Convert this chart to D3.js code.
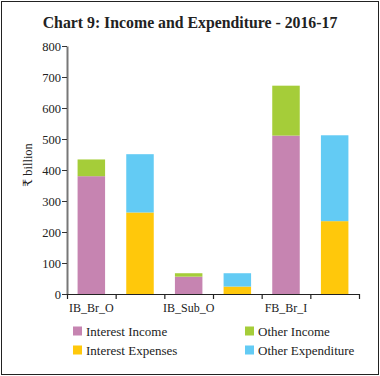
<!DOCTYPE html>
<html>
<head>
<meta charset="utf-8">
<script src="https://cdn.jsdelivr.net/npm/d3@7"></script>
<style>
  body { margin: 0; background: #fff; }
  svg text { font-family: "Liberation Serif", "DejaVu Serif", serif; fill: #222; }
</style>
</head>
<body>
<div id="chart"></div>
<script>
// ---- data ----
const slots = ["IB_Br_O", "IB_Br_O_e", "IB_Sub_O", "IB_Sub_O_e", "FB_Br_I", "FB_Br_I_e"];
const groupLabels = ["IB_Br_O", "IB_Sub_O", "FB_Br_I"];
const interestIncome = [380, 56, 511];
const otherIncome = [54, 11, 161];
const interestExpenses = [263, 24, 235];
const otherExpenditure = [188, 43, 277];
const yTicks = [0, 100, 200, 300, 400, 500, 600, 700, 800];

const colors = {
  "Interest Income": "#C684B1",
  "Other Income": "#A5CD39",
  "Interest Expenses": "#FFC80B",
  "Other Expenditure": "#63CBF4"
};

const W = 380, H = 376;
const plotLeft = 67, plotRight = 359, plotTop = 46, plotBottom = 294;

const svg = d3.select("#chart").append("svg")
  .attr("width", W).attr("height", H);

// frame
svg.append("rect")
  .attr("x", 1.5).attr("y", 1.5)
  .attr("width", W - 3).attr("height", H - 3)
  .attr("fill", "none").attr("stroke", "#222").attr("stroke-width", 1);

svg.append("text")
  .attr("x", 190).attr("y", 28)
  .attr("text-anchor", "middle")
  .style("font-size", "15.8px").style("font-weight", "bold")
  .text("Chart 9: Income and Expenditure - 2016-17");

const x = d3.scaleBand().domain(slots).range([plotLeft, plotRight]).padding(0);
const y = d3.scaleLinear().domain([0, 800]).range([plotBottom, plotTop]);
const bw = x.bandwidth() * 0.565;

// build stacked rows
const rows = [];
groupLabels.forEach((g, i) => {
  rows.push({ slot: slots[i * 2], parts: [["Interest Income", interestIncome[i]], ["Other Income", otherIncome[i]]] });
  rows.push({ slot: slots[i * 2 + 1], parts: [["Interest Expenses", interestExpenses[i]], ["Other Expenditure", otherExpenditure[i]]] });
});

const segs = [];
rows.forEach(r => {
  let base = 0;
  r.parts.forEach(([k, v]) => {
    segs.push({ slot: r.slot, key: k, y0: base, y1: base + v });
    base += v;
  });
});

svg.append("g").selectAll("rect")
  .data(segs)
  .join("rect")
  .attr("x", d => x(d.slot) + (x.bandwidth() - bw) / 2)
  .attr("width", bw)
  .attr("y", d => y(d.y1))
  .attr("height", d => y(d.y0) - y(d.y1))
  .attr("fill", d => colors[d.key]);

// y axis
const yAxis = svg.append("g")
  .attr("transform", `translate(${plotLeft},0)`)
  .call(d3.axisLeft(y).tickValues(yTicks).tickSize(5).tickSizeOuter(0));
yAxis.select(".domain").attr("stroke", "#777").attr("stroke-width", 2);
yAxis.selectAll(".tick line").attr("stroke", "#333");
yAxis.selectAll(".tick text").style("font-size", "12.5px").attr("x", -6);

// x axis: ticks on slot boundaries
const xb = d3.scaleLinear().domain([0, slots.length]).range([plotLeft, plotRight]);
const xAxis = svg.append("g")
  .attr("transform", `translate(0,${plotBottom})`)
  .call(d3.axisBottom(xb).ticks(slots.length).tickSize(5).tickSizeOuter(0).tickFormat(""));
xAxis.select(".domain").attr("stroke", "#222").attr("stroke-width", 1.2);
xAxis.selectAll(".tick line").attr("stroke", "#222").attr("stroke-width", 1.2);

svg.append("g").selectAll("text")
  .data(groupLabels)
  .join("text")
  .attr("x", (d, i) => x(slots[i * 2]) + x.bandwidth() / 2)
  .attr("y", 312)
  .attr("text-anchor", "middle")
  .style("font-size", "12px")
  .text(d => d);

// y label
svg.append("text")
  .attr("transform", "translate(32,165) rotate(-90)")
  .attr("text-anchor", "middle")
  .style("font-size", "12.5px")
  .text("₹ billion");

// legend
const legendItems = [
  { k: "Interest Income", lx: 73, ly: 331 },
  { k: "Other Income", lx: 245, ly: 331 },
  { k: "Interest Expenses", lx: 73, ly: 350 },
  { k: "Other Expenditure", lx: 245, ly: 350 }
];
const lg = svg.append("g").selectAll("g").data(legendItems).join("g")
  .attr("transform", d => `translate(${d.lx},${d.ly})`);
lg.append("rect").attr("x", 0).attr("y", -4.5).attr("width", 9).attr("height", 9)
  .attr("fill", d => colors[d.k]);
lg.append("text").attr("x", 13).attr("y", 4.5).style("font-size", "13px").text(d => d.k);
</script>
</body>
</html>
